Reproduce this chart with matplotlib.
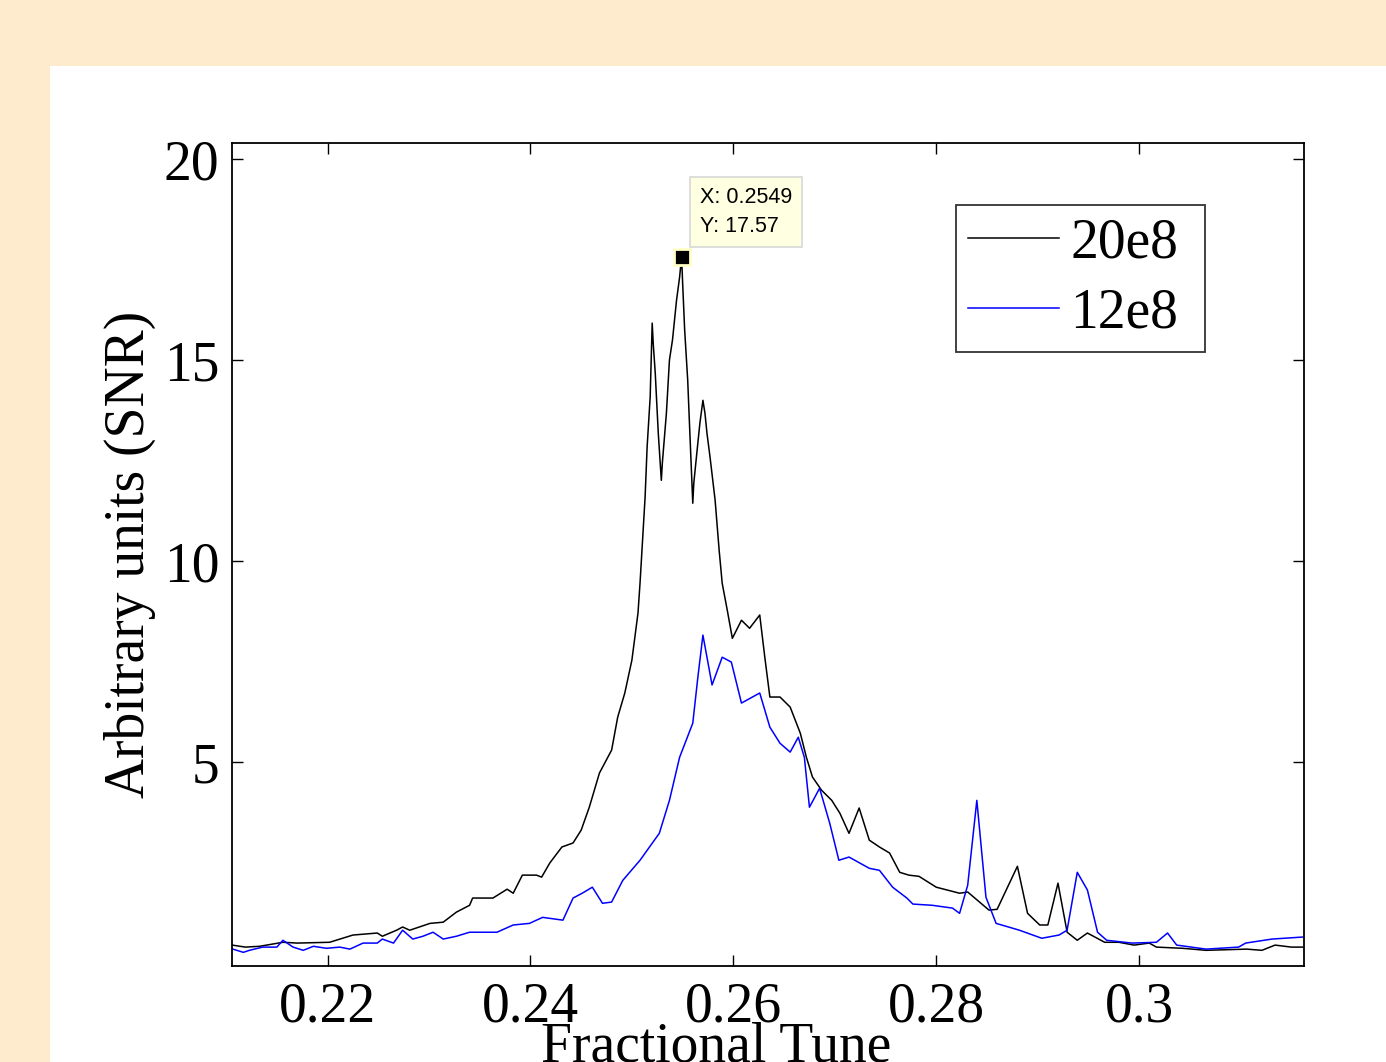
import matplotlib.pyplot as plt
from matplotlib.patches import Rectangle

# 20e8 curve (black)
tune_20 = [0.2106, 0.2119, 0.2133, 0.2156, 0.2170, 0.2202, 0.2225, 0.2249, 0.2254, 0.2268,
           0.2274, 0.2281, 0.2301, 0.2314, 0.2327, 0.2340, 0.2343, 0.2363, 0.2377, 0.2383,
           0.2392, 0.2406, 0.2411, 0.2419, 0.2431, 0.2442, 0.2450, 0.2458, 0.2468, 0.2480,
           0.2486, 0.2493, 0.2500, 0.2506, 0.2508, 0.2513, 0.2515, 0.2518, 0.2520, 0.2521,
           0.2523, 0.2526, 0.2529, 0.2530, 0.2534, 0.2537, 0.2540, 0.2544, 0.2547, 0.2549,
           0.2550, 0.2552, 0.2555, 0.2557, 0.2560, 0.2561, 0.2564, 0.2567, 0.2570, 0.2572,
           0.2574, 0.2577, 0.2582, 0.2586, 0.2589, 0.2594, 0.2599, 0.2608, 0.2616, 0.2626,
           0.2631, 0.2636, 0.2646, 0.2656, 0.2666, 0.2672, 0.2678, 0.2687, 0.2697, 0.2705,
           0.2714, 0.2724, 0.2734, 0.2744, 0.2754, 0.2764, 0.2773, 0.2783, 0.2800, 0.2823,
           0.2831, 0.2852, 0.2860, 0.2880, 0.2890, 0.2902, 0.2910, 0.2920, 0.2929, 0.2939,
           0.2949, 0.2966, 0.2980, 0.2995, 0.3010, 0.3017, 0.3043, 0.3066, 0.3106, 0.3121,
           0.3134, 0.3150, 0.3161]
snr_20 = [0.45, 0.40, 0.42, 0.52, 0.50, 0.52, 0.70, 0.75, 0.67, 0.82,
          0.90, 0.82, 0.99, 1.02, 1.27, 1.44, 1.62, 1.62, 1.84, 1.74,
          2.19, 2.19, 2.14, 2.49, 2.89, 2.99, 3.31, 3.88, 4.73, 5.30,
          6.12, 6.72, 7.54, 8.71, 9.45, 11.59, 12.84, 14.08, 15.92, 15.42,
          14.68, 13.18, 12.01, 12.44, 13.68, 15.00, 15.50, 16.49, 17.06, 17.57,
          16.92, 15.75, 14.50, 13.26, 11.44, 11.94, 12.69, 13.43, 14.00, 13.68,
          13.18, 12.59, 11.52, 10.27, 9.45, 8.78, 8.08, 8.53, 8.33, 8.66,
          7.61, 6.62, 6.62, 6.37, 5.72, 5.12, 4.63, 4.30, 4.05, 3.73,
          3.23, 3.86, 3.06, 2.89, 2.74, 2.26, 2.19, 2.16, 1.89, 1.74,
          1.77, 1.32, 1.34, 2.41, 1.24, 0.95, 0.95, 1.99, 0.77, 0.57,
          0.75, 0.52, 0.52, 0.45, 0.50, 0.40, 0.37, 0.32, 0.35, 0.32,
          0.45, 0.40, 0.40]

# 12e8 curve (blue)
tune_12 = [0.2104, 0.2117, 0.2123, 0.2136, 0.2150, 0.2156, 0.2166, 0.2176, 0.2186, 0.2199,
           0.2212, 0.2222, 0.2235, 0.2249, 0.2254, 0.2265, 0.2274, 0.2284, 0.2294, 0.2304,
           0.2314, 0.2327, 0.2340, 0.2353, 0.2367, 0.2383, 0.2399, 0.2412, 0.2432, 0.2442,
           0.2451, 0.2461, 0.2471, 0.2480, 0.2491, 0.2508, 0.2527, 0.2537, 0.2547, 0.2560,
           0.2565, 0.2570, 0.2579, 0.2589, 0.2598, 0.2608, 0.2626, 0.2636, 0.2646, 0.2656,
           0.2664, 0.2670, 0.2675, 0.2685, 0.2695, 0.2704, 0.2714, 0.2734, 0.2744, 0.2757,
           0.2771, 0.2777, 0.2796, 0.2816, 0.2823, 0.2831, 0.2840, 0.2849, 0.2859, 0.2882,
           0.2904, 0.2921, 0.2929, 0.2939, 0.2949, 0.2959, 0.2968, 0.2993, 0.3017, 0.3028,
           0.3037, 0.3066, 0.3098, 0.3105, 0.3131, 0.3161]
snr_12 = [0.37, 0.27, 0.32, 0.40, 0.40, 0.57, 0.40, 0.32, 0.42, 0.37,
          0.40, 0.35, 0.50, 0.50, 0.60, 0.50, 0.82, 0.60, 0.67, 0.77,
          0.60, 0.67, 0.77, 0.77, 0.77, 0.95, 0.99, 1.14, 1.07, 1.62,
          1.74, 1.89, 1.49, 1.52, 2.06, 2.56, 3.23, 4.05, 5.12, 5.97,
          7.11, 8.16, 6.92, 7.61, 7.49, 6.47, 6.72, 5.87, 5.47, 5.25,
          5.62, 5.12, 3.88, 4.35, 3.48, 2.56, 2.64, 2.36, 2.31, 1.89,
          1.62, 1.47, 1.44, 1.37, 1.24, 1.94, 4.05, 1.64, 0.99, 0.82,
          0.62, 0.70, 0.82, 2.26, 1.82, 0.77, 0.57, 0.50, 0.52, 0.75,
          0.45, 0.35, 0.40, 0.50, 0.60, 0.65]

xticks = [0.22, 0.24, 0.26, 0.28, 0.30]
xtick_labels = ['0.22', '0.24', '0.26', '0.28', '0.3']
yticks = [5, 10, 15, 20]

tip_x = 0.2549
tip_y = 17.57

plt.rcParams['font.family'] = ['Liberation Serif', 'DejaVu Serif']

fig = plt.figure(figsize=(13.86, 10.62), dpi=100, facecolor='#FEEACC')
# white panel behind the axes
fig.patches.append(Rectangle((50 / 1386, 0), 1, 1 - 66 / 1062, transform=fig.transFigure,
                             facecolor='white', edgecolor='none', zorder=-5))

ax = fig.add_axes([232 / 1386, 1 - 966 / 1062, 1072 / 1386, 823 / 1062])
ax.set_zorder(2)
ax.plot(tune_20, snr_20, color='black', lw=1.1, label='20e8')
ax.plot(tune_12, snr_12, color='#0000FF', lw=1.1, label='12e8')

ax.set_xlim(0.21058, 0.31625)
ax.set_ylim(-0.07, 20.4)
ax.set_xticks(xticks)
ax.set_xticklabels(xtick_labels)
ax.set_yticks(yticks)
ax.tick_params(direction='in', length=8, width=1, top=True, right=True,
               labelsize=40, pad=9)
ax.tick_params(axis='x', pad=11)
for s in ax.spines.values():
    s.set_linewidth(1.3)

ax.set_xlabel('Fractional Tune', fontsize=40)
ax.xaxis.set_label_coords(0.4515, -0.068, transform=ax.transAxes)
ax.xaxis.label.set_va('top')
ax.set_ylabel('Arbitrary units (SNR)', fontsize=40, labelpad=6)

# data tip
ax.plot([tip_x], [tip_y], marker='s', ms=12, color='black', mec='#FFFFC8', mew=2)
ax.annotate('X: 0.2549\nY: 17.57', xy=(tip_x, tip_y), xytext=(13, 14),
            textcoords='offset points', fontsize=15.5, family='Liberation Sans',
            ha='left', va='bottom', linespacing=1.55,
            bbox=dict(boxstyle='square,pad=0.45', fc='#FFFFE1', ec='#D8D8D8', lw=1.2))

leg = ax.legend(loc='upper left', bbox_to_anchor=(0.675, 0.7497, 0.2325, 0.175),
                mode='expand', fontsize=40, frameon=True, fancybox=False,
                handlelength=1.65, handletextpad=0.19, labelspacing=0.33,
                borderpad=0.22, borderaxespad=0)
leg.get_frame().set_edgecolor('black')
leg.get_frame().set_linewidth(1.3)

fig.savefig('out.png', dpi=100, facecolor=fig.get_facecolor())
